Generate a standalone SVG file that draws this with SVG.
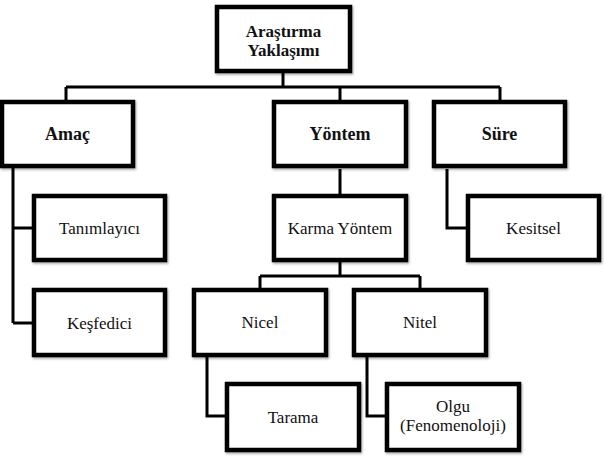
<svg xmlns="http://www.w3.org/2000/svg" width="606" height="463" viewBox="0 0 606 463">
<style>
.box{fill:#fff;stroke:#000;stroke-width:4.5;filter:url(#sh)}
text{font-family:'Liberation Serif','DejaVu Serif',serif;font-size:17px;fill:#111;text-anchor:middle}
.b{font-weight:bold;font-size:18px}
.r{font-size:17px}
.c{fill:none;stroke:#000;stroke-width:3}
</style>
<defs>
<filter id="sh" x="-10%" y="-10%" width="130%" height="130%">
<feDropShadow dx="1" dy="1.5" stdDeviation="1.2" flood-color="#000" flood-opacity="0.35"/>
</filter>
</defs>
<g id="connectors">
<path class="c" d="M283,73 V87 M66,87 H500 M66,87 V100 M340,87 V100 M500,87 V100"/>
<path class="c" d="M13,168 V323 M13,228 H32 M13,323 H32"/>
<path class="c" d="M340,169 V194 M340,262 V276 M260,276 H420 M260,276 V288 M420,276 V288"/>
<path class="c" d="M447,169 V228 H466"/>
<path class="c" d="M207,357 V416 H225 M367,357 V416 H385"/>
</g>
<g id="n-root"><rect class="box" x="217" y="7" width="133" height="64"/><text class="b r" x="283.5" y="36.5">Araştırma</text><text class="b r" x="283.5" y="56">Yaklaşımı</text></g>
<g id="n-amac"><rect class="box" x="2" y="102" width="131" height="64"/><text class="b" x="67.5" y="140">Amaç</text></g>
<g id="n-yontem"><rect class="box" x="274" y="102" width="132" height="64"/><text class="b" x="340" y="140">Yöntem</text></g>
<g id="n-sure"><rect class="box" x="434" y="102" width="131" height="64"/><text class="b" x="499.5" y="140">Süre</text></g>
<g id="n-tanimlayici"><rect class="box" x="34" y="196" width="131" height="64"/><text x="99.5" y="234">Tanımlayıcı</text></g>
<g id="n-kesfedici"><rect class="box" x="34" y="290" width="131" height="65"/><text x="99.5" y="329">Keşfedici</text></g>
<g id="n-karma"><rect class="box" x="274" y="196" width="132" height="64"/><text x="340" y="234">Karma Yöntem</text></g>
<g id="n-kesitsel"><rect class="box" x="468" y="196" width="131" height="64"/><text x="533.5" y="234">Kesitsel</text></g>
<g id="n-nicel"><rect class="box" x="194" y="290" width="132" height="65"/><text x="260" y="328">Nicel</text></g>
<g id="n-nitel"><rect class="box" x="354" y="290" width="132" height="65"/><text x="420" y="328">Nitel</text></g>
<g id="n-tarama"><rect class="box" x="227" y="384" width="132" height="66"/><text x="293" y="423">Tarama</text></g>
<g id="n-olgu"><rect class="box" x="387" y="384" width="132" height="66"/><text x="453" y="412">Olgu</text><text x="453" y="431">(Fenomenoloji)</text></g>
</svg>
